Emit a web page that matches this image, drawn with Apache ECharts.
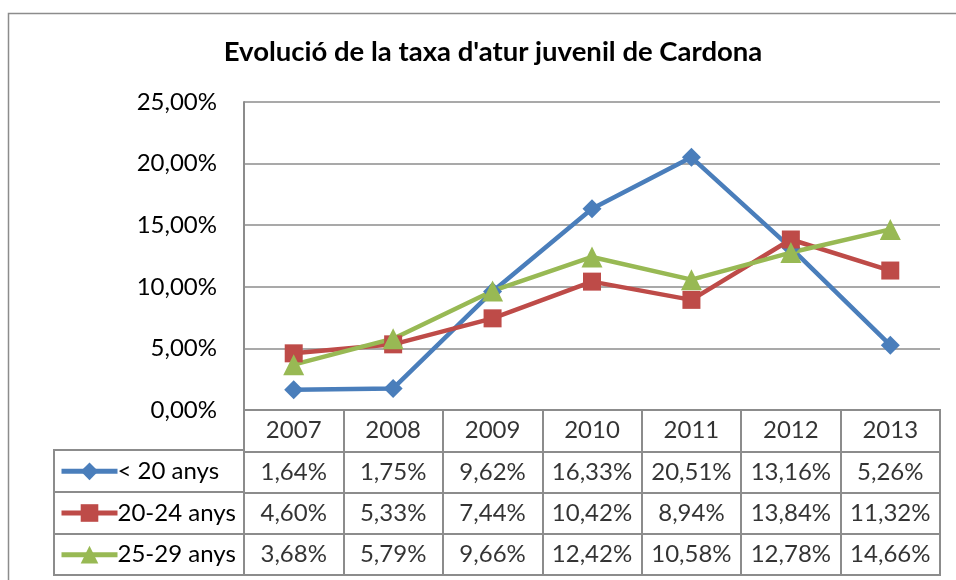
<!DOCTYPE html>
<html><head><meta charset="utf-8">
<script src="https://cdn.jsdelivr.net/npm/echarts@6/dist/echarts.min.js"></script>
<style>html,body{margin:0;padding:0;background:#fff}#c{width:956px;height:580px}</style>
</head><body><div id="c"></div>
<script>
const years = ['2007','2008','2009','2010','2011','2012','2013'];
const seriesNames = ['< 20 anys','20-24 anys','25-29 anys'];
const under20 = [1.64,1.75,9.62,16.33,20.51,13.16,5.26];
const age20to24 = [4.60,5.33,7.44,10.42,8.94,13.84,11.32];
const age25to29 = [3.68,5.79,9.66,12.42,10.58,12.78,14.66];
const yTicks = [0,5,10,15,20,25];
const titleText = "Evolució de la taxa d'atur juvenil de Cardona";

const colors = ['#4A7EBB','#BE4B48','#98B954'];
const symbols = ['diamond','rect','triangle'];
const symbolSizes = [19,18,21];
const values = [under20, age20to24, age25to29];
const gridColor = '#8c8c8c';
const font = 'Lato';
const fs = 24;
const fmt = v => v.toFixed(2).replace('.', ',') + '%';
const tableRows = ['header'].concat(seriesNames);

const chart = echarts.init(document.getElementById('c'), null, {renderer:'canvas'});

const lineSeries = seriesNames.map((name, i) => ({
  name: name, type: 'line', xAxisIndex: 0, yAxisIndex: 0,
  data: values[i], symbol: symbols[i], symbolSize: symbolSizes[i],
  lineStyle: {color: colors[i], width: 4.5},
  itemStyle: {color: colors[i]},
  emphasis: {disabled: true}, animation: false
}));

const cellData = [];
years.forEach(y => cellData.push({value: [y, 'header'], label: {formatter: y}}));
seriesNames.forEach((name, i) => {
  values[i].forEach((v, j) => cellData.push({value: [years[j], name], label: {formatter: fmt(v)}}));
});

const tableSeries = {
  name: 'table', type: 'scatter', xAxisIndex: 1, yAxisIndex: 1,
  data: cellData, symbolSize: 0, silent: true, animation: false,
  label: {show: true, position: 'inside', fontFamily: font, fontSize: fs, color: '#000'}
};

// legend column: grid at top 450, height 125, 3 rows
const legTop = 450, legH = 125, itemH = 22;
const legends = seriesNames.map((name, i) => ({
  data: [name], orient: 'vertical', left: 59,
  top: legTop + legH / 6 * (2 * i + 1) - itemH / 2 - 0.5,
  itemWidth: 56, itemHeight: itemH, padding: 0, selectedMode: false,
  lineStyle: {width: 5},
  textStyle: {fontFamily: font, fontSize: fs, color: '#000', lineHeight: itemH, padding: [0,0,0,-5]}
}));

chart.setOption({
  animation: false,
  title: {text: titleText, left: 488, textAlign: 'center', top: 33,
    textStyle: {fontFamily: font, fontWeight: 'bold', fontSize: 27.5, color: '#000'}},
  legend: legends,
  graphic: [{type: 'rect', silent: true, shape: {x: 8.5, y: 13.5, width: 1000, height: 600},
    style: {fill: 'none', stroke: '#8c8c8c', lineWidth: 1.5}}],
  grid: [
    {left: 244, top: 102, width: 696, height: 308, show: false},
    {left: 244, top: 410, width: 696, height: 165, show: true, borderColor: gridColor, borderWidth: 2},
    {left: 54, top: legTop, width: 190, height: legH, show: true, borderColor: gridColor, borderWidth: 2}
  ],
  xAxis: [
    {type: 'category', gridIndex: 0, data: years, boundaryGap: true,
      axisLine: {show: true, lineStyle: {color: gridColor, width: 2}}, axisTick: {show: false},
      axisLabel: {show: false}, splitLine: {show: false}},
    {type: 'category', gridIndex: 1, data: years, boundaryGap: true,
      axisLine: {show: false}, axisTick: {show: false}, axisLabel: {show: false},
      splitLine: {show: true, interval: 0, lineStyle: {color: gridColor, width: 2}}},
    {type: 'value', gridIndex: 2, min: 0, max: 1, show: false}
  ],
  yAxis: [
    {type: 'value', gridIndex: 0, min: yTicks[0], max: yTicks[yTicks.length-1], interval: yTicks[1]-yTicks[0],
      axisLine: {show: true, lineStyle: {color: gridColor, width: 2}}, axisTick: {show: false},
      axisLabel: {fontFamily: font, fontSize: fs, color: '#000', margin: 27, formatter: v => fmt(v)},
      splitLine: {show: true, lineStyle: {color: gridColor, width: 1.5}}},
    {type: 'category', gridIndex: 1, data: tableRows, inverse: true, boundaryGap: true,
      axisLine: {show: false}, axisTick: {show: false}, axisLabel: {show: false},
      splitLine: {show: true, interval: 0, lineStyle: {color: gridColor, width: 2}}},
    {type: 'category', gridIndex: 2, data: seriesNames, inverse: true, boundaryGap: true,
      axisLine: {show: false}, axisTick: {show: false}, axisLabel: {show: false},
      splitLine: {show: true, interval: 0, lineStyle: {color: gridColor, width: 2}}}
  ],
  series: lineSeries.concat([tableSeries])
});
</script></body></html>
